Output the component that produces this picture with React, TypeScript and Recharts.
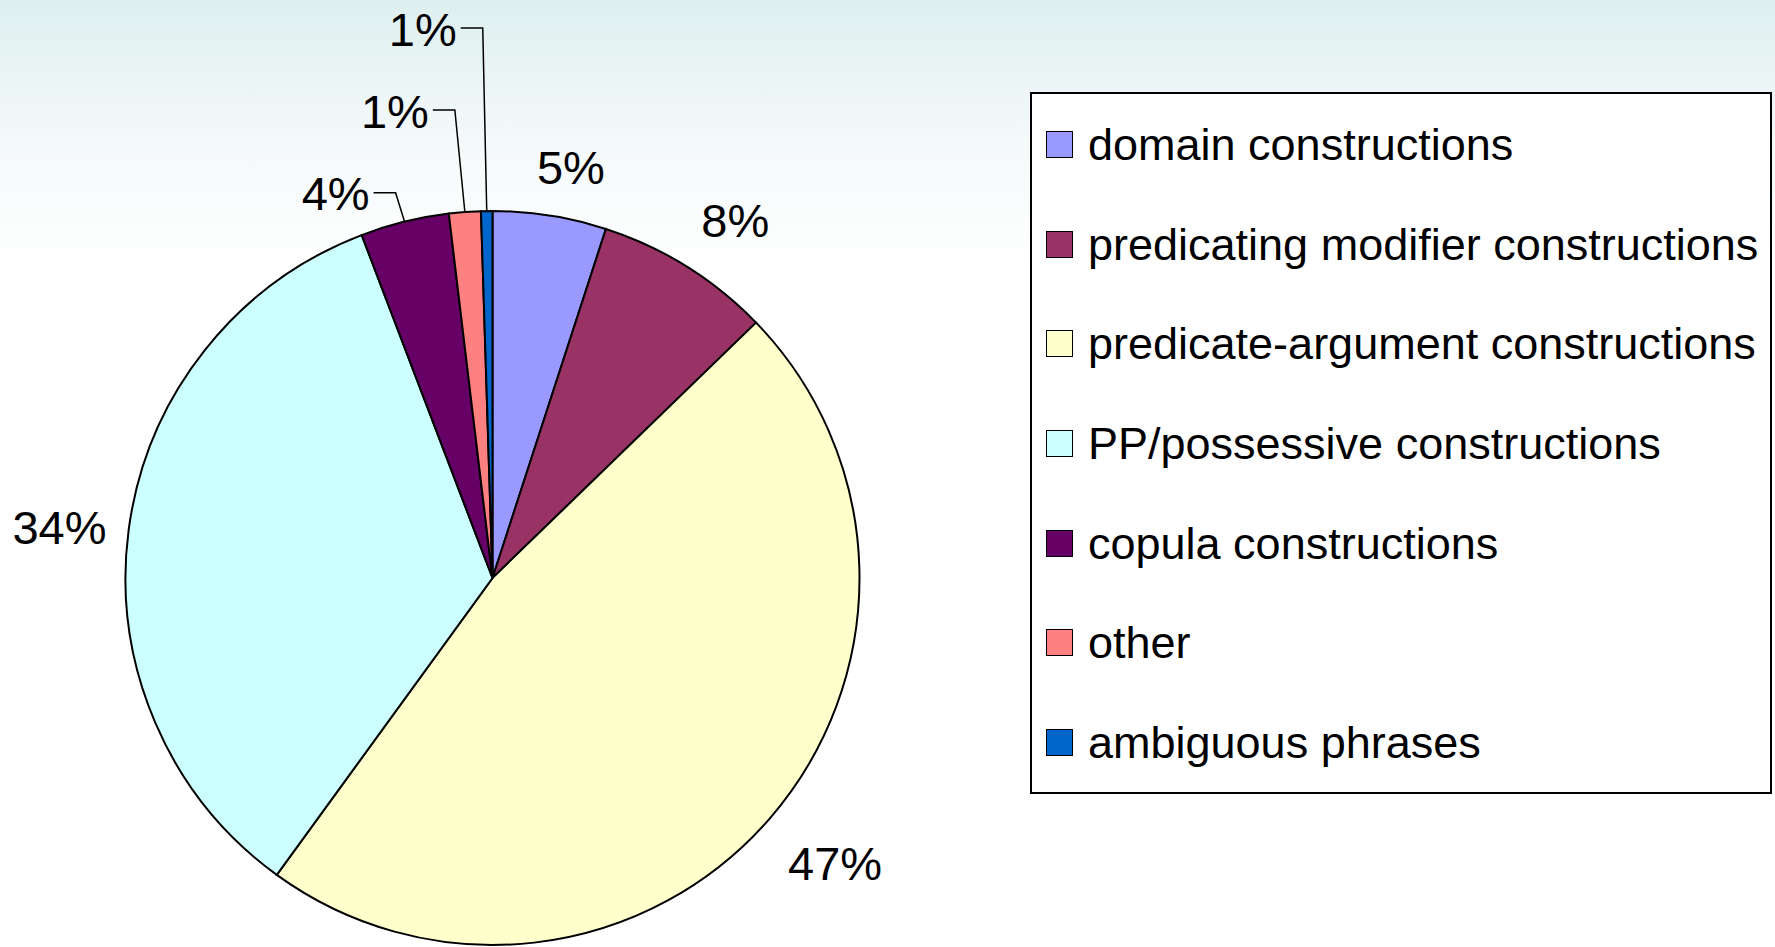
import React from 'react';
import { PieChart, Pie, Cell, Legend } from 'recharts';

const categories = [
  'domain constructions',
  'predicating modifier constructions',
  'predicate-argument constructions',
  'PP/possessive constructions',
  'copula constructions',
  'other',
  'ambiguous phrases',
];
const shares = [5.0, 7.75, 47.25, 34.2, 3.9, 1.4, 0.5];
const percentLabels = ['5%', '8%', '47%', '34%', '4%', '1%', '1%'];
const sliceColors = ['#9999FF', '#993366', '#FFFFCC', '#CCFFFF', '#660066', '#FF8080', '#0066CC'];

const data = categories.map((name, i) => ({ name, value: shares[i] }));

const W = 1775;
const H = 947;
const CX = 492.5;
const CY = 578;
const R = 367;
const FONT = '"Liberation Sans", Arial, sans-serif';
const LABEL_SIZE = 47;
const RAD = Math.PI / 180;

// small slices get a leader line: rise above the rim, sideways lean at the elbow
const leaders: Record<number, { rise: number; lean: number }> = {
  4: { rise: 29, lean: -9 },
  5: { rise: 102, lean: -10 },
  6: { rise: 183, lean: -4 },
};
// nudges for the labels placed just outside the rim
const nudges: Record<number, [number, number]> = {
  0: [13, 2],
  1: [15.5, 7],
  2: [8.5, -4],
  3: [4.5, 8],
};

const renderLabel = (props: any) => {
  const { midAngle, index } = props;
  const cx = typeof props.cx === 'number' ? props.cx : CX;
  const cy = typeof props.cy === 'number' ? props.cy : CY;
  const outer = typeof props.outerRadius === 'number' ? props.outerRadius : R;
  const cos = Math.cos(-midAngle * RAD);
  const sin = Math.sin(-midAngle * RAD);
  const ex = cx + outer * cos;
  const ey = cy + outer * sin;
  const text = percentLabels[index];
  const lead = leaders[index];
  if (lead) {
    const bx = ex + lead.lean;
    const by = ey - lead.rise;
    return (
      <g key={`lbl-${index}`}>
        <polyline
          points={`${ex},${ey} ${bx},${by} ${bx - 22},${by}`}
          fill="none"
          stroke="#000"
          strokeWidth={1.5}
        />
        <text
          x={bx - 26}
          y={by + 1}
          textAnchor="end"
          dominantBaseline="central"
          fontFamily={FONT}
          fontSize={LABEL_SIZE}
          fill="#000"
        >
          {text}
        </text>
      </g>
    );
  }
  const w = text.length <= 2 ? 80 : 103;
  const h = 50;
  const ext = Math.abs(cos) * (w / 2) + Math.abs(sin) * (h / 2);
  const r = outer + 20 + ext;
  const [dx, dy] = nudges[index] || [0, 0];
  return (
    <text
      key={`lbl-${index}`}
      x={cx + r * cos + dx}
      y={cy + r * sin + dy}
      textAnchor="middle"
      dominantBaseline="central"
      fontFamily={FONT}
      fontSize={LABEL_SIZE}
      fill="#000"
    >
      {text}
    </text>
  );
};

const LegendBox = () => (
  <div
    style={{
      boxSizing: 'border-box',
      width: 742,
      height: 702,
      border: '2.5px solid #000',
      background: '#fff',
      paddingTop: 1,
      display: 'flex',
      flexDirection: 'column',
      fontFamily: FONT,
    }}
  >
    {categories.map((name, i) => (
      <div key={name} style={{ height: 99.8, display: 'flex', alignItems: 'center', paddingLeft: 14 }}>
        <div
          style={{
            boxSizing: 'border-box',
            width: 27,
            height: 27,
            background: sliceColors[i],
            border: '1.5px solid #000',
            marginRight: 15,
          }}
        />
        <span style={{ fontSize: 45, color: '#000', whiteSpace: 'nowrap', lineHeight: 1 }}>{name}</span>
      </div>
    ))}
  </div>
);

export default function App() {
  return (
    <div
      style={{
        position: 'absolute',
        left: 0,
        top: 0,
        width: W,
        height: H,
        overflow: 'hidden',
        background: 'linear-gradient(to bottom, #DEEFEF 0px, #F4F9FA 140px, #FFFFFF 270px)',
      }}
    >
      <PieChart width={W} height={H} margin={{ top: 0, right: 0, bottom: 0, left: 0 }}>
        <Pie
          data={data}
          dataKey="value"
          nameKey="name"
          cx={CX}
          cy={CY}
          outerRadius={R}
          startAngle={90}
          endAngle={-270}
          stroke="#000"
          strokeWidth={2}
          label={renderLabel}
          labelLine={false}
          isAnimationActive={false}
        >
          {data.map((d, i) => (
            <Cell key={d.name} fill={sliceColors[i]} />
          ))}
        </Pie>
        <Legend
          content={<LegendBox />}
          wrapperStyle={{ position: 'absolute', left: 1030, top: 92, width: 742, height: 702 }}
        />
      </PieChart>
    </div>
  );
}
